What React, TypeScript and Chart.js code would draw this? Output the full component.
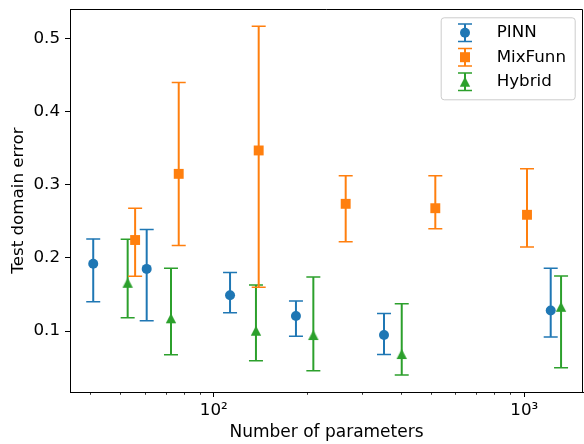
import React, { useEffect, useRef } from "react";
import { Chart, registerables } from "chart.js";

Chart.register(...registerables);

// ---- data ----
const seriesLabels = ["PINN", "MixFunn", "Hybrid"];
const seriesColors = ["#1f77b4", "#ff7f0e", "#2ca02c"];

const pinnX = [40.9, 60.8, 112.8, 183.9, 353.3, 1216];
const pinnY = [0.192, 0.185, 0.149, 0.1205, 0.0945, 0.128];
const pinnLo = [0.140, 0.114, 0.125, 0.093, 0.068, 0.092];
const pinnHi = [0.226, 0.239, 0.180, 0.141, 0.124, 0.186];

const mixX = [55.8, 77.1, 139.5, 265.9, 516.8, 1020];
const mixY = [0.2245, 0.315, 0.347, 0.274, 0.268, 0.259];
const mixLo = [0.175, 0.217, 0.160, 0.222, 0.240, 0.215];
const mixHi = [0.268, 0.440, 0.517, 0.3125, 0.3125, 0.322];

const hybX = [52.8, 72.8, 136.7, 209.2, 402.9, 1313];
const hybY = [0.166, 0.1174, 0.1004, 0.0945, 0.0685, 0.1332];
const hybLo = [0.118, 0.0676, 0.0594, 0.0457, 0.0398, 0.0498];
const hybHi = [0.2254, 0.1858, 0.163, 0.1739, 0.1373, 0.1752];

const xMajorTicks = [100, 1000];
const xMajorLabels = ["10²", "10³"];
const xMinorTicks = [40, 50, 60, 70, 80, 90, 200, 300, 400, 500, 600, 700, 800, 900];
const yTicks = [0.1, 0.2, 0.3, 0.4, 0.5];

const xTitle = "Number of parameters";
const yTitle = "Test domain error";

const FONT = "'DejaVu Sans', sans-serif";
const FS = 16.7;

function makeTriangle(color: string) {
  const c = document.createElement("canvas");
  c.width = 12;
  c.height = 12;
  const g = c.getContext("2d")!;
  g.fillStyle = color;
  g.beginPath();
  g.moveTo(6, 1);
  g.lineTo(11.2, 11);
  g.lineTo(0.8, 11);
  g.closePath();
  g.fill();
  return c;
}

export default function App() {
  const ref = useRef<HTMLCanvasElement | null>(null);

  useEffect(() => {
    document.body.style.margin = "0";
    const canvas = ref.current!;
    const xs = [pinnX, mixX, hybX];
    const ys = [pinnY, mixY, hybY];
    const los = [pinnLo, mixLo, hybLo];
    const his = [pinnHi, mixHi, hybHi];
    const tri = makeTriangle(seriesColors[2]);
    const styles: any[] = ["circle", "rect", tri];
    const radii = [5, 7, 6];

    const errorBars = {
      id: "errorBars",
      beforeDatasetDraw(chart: any, args: any) {
        const i = args.index;
        const ctx = chart.ctx;
        const xs_ = chart.scales.x;
        const ys_ = chart.scales.y;
        ctx.save();
        ctx.strokeStyle = seriesColors[i];
        for (let j = 0; j < xs[i].length; j++) {
          const px = xs_.getPixelForValue(xs[i][j]);
          const pt = ys_.getPixelForValue(his[i][j]);
          const pb = ys_.getPixelForValue(los[i][j]);
          ctx.lineWidth = 2;
          ctx.beginPath();
          ctx.moveTo(px, pt);
          ctx.lineTo(px, pb);
          ctx.stroke();
          ctx.lineWidth = 1.5;
          ctx.beginPath();
          ctx.moveTo(px - 7, pt);
          ctx.lineTo(px + 7, pt);
          ctx.moveTo(px - 7, pb);
          ctx.lineTo(px + 7, pb);
          ctx.stroke();
        }
        ctx.restore();
      },
    };

    const frame = {
      id: "frame",
      afterDraw(chart: any) {
        const ctx = chart.ctx;
        const a = chart.chartArea;
        const xsc = chart.scales.x;
        ctx.save();
        // minor ticks
        ctx.strokeStyle = "#000";
        ctx.lineWidth = 0.8;
        ctx.beginPath();
        for (const v of xMinorTicks) {
          const px = Math.round(xsc.getPixelForValue(v)) + 0.5;
          ctx.moveTo(px, a.bottom);
          ctx.lineTo(px, a.bottom + 2.8);
        }
        ctx.stroke();
        // top/right spines
        ctx.lineWidth = 1;
        ctx.beginPath();
        const t = Math.round(a.top) + 0.5;
        const r = Math.round(a.right) - 0.5;
        ctx.moveTo(a.left, t);
        ctx.lineTo(r, t);
        ctx.lineTo(r, a.bottom);
        ctx.stroke();

        // legend
        const bw = 134, bh = 82;
        const bl = a.right - 8.3 - bw;
        const bt = a.top + 8.3;
        ctx.beginPath();
        (ctx as any).roundRect(bl + 0.5, bt + 0.5, bw, bh, 3);
        ctx.fillStyle = "rgba(255,255,255,0.8)";
        ctx.fill();
        ctx.strokeStyle = "#cccccc";
        ctx.lineWidth = 1;
        ctx.stroke();
        for (let k = 0; k < seriesLabels.length; k++) {
          const yc = bt + 15.4 + k * 24.5;
          const xc = bl + 24.3;
          const col = seriesColors[k];
          ctx.strokeStyle = col;
          ctx.lineWidth = 2;
          ctx.beginPath();
          ctx.moveTo(xc, yc - 8.8);
          ctx.lineTo(xc, yc + 8.8);
          ctx.stroke();
          ctx.lineWidth = 1.5;
          ctx.beginPath();
          ctx.moveTo(xc - 7, yc - 8.8);
          ctx.lineTo(xc + 7, yc - 8.8);
          ctx.moveTo(xc - 7, yc + 8.8);
          ctx.lineTo(xc + 7, yc + 8.8);
          ctx.stroke();
          ctx.fillStyle = col;
          if (k === 0) {
            ctx.beginPath();
            ctx.arc(xc, yc, 5, 0, Math.PI * 2);
            ctx.fill();
          } else if (k === 1) {
            ctx.fillRect(xc - 5, yc - 5, 10, 10);
          } else {
            ctx.drawImage(tri, xc - 6, yc - 6);
          }
          ctx.fillStyle = "#000";
          ctx.font = `${FS}px ${FONT}`;
          ctx.textBaseline = "middle";
          ctx.textAlign = "left";
          ctx.fillText(seriesLabels[k], bl + 56, yc);
        }
        ctx.restore();
      },
    };

    const chart = new Chart(canvas, {
      type: "scatter",
      data: {
        datasets: seriesLabels.map((label, i) => ({
          label,
          data: xs[i].map((x, j) => ({ x, y: ys[i][j] })),
          backgroundColor: seriesColors[i],
          borderColor: seriesColors[i],
          borderWidth: 0,
          pointStyle: styles[i],
          pointRadius: radii[i],
          pointHoverRadius: radii[i],
          showLine: false,
        })),
      },
      options: {
        animation: false,
        responsive: false,
        events: [],
        layout: { autoPadding: false, padding: { top: 9, right: 1, left: 0, bottom: 0 } },
        plugins: {
          legend: { display: false },
          tooltip: { enabled: false },
        },
        scales: {
          x: {
            type: "logarithmic",
            min: 34.43,
            max: 1545,
            bounds: "data",
            afterBuildTicks: (s: any) => {
              s.ticks = [...xMinorTicks, ...xMajorTicks]
                .sort((a, b) => a - b)
                .map((v) => ({ value: v }));
            },
            afterFit: (s: any) => {
              s.height = 52;
              s.paddingLeft = 0;
              s.paddingRight = 0;
            },
            ticks: {
              autoSkip: false,
              maxRotation: 0,
              minRotation: 0,
              padding: 4,
              color: "#000",
              font: { family: FONT, size: FS },
              callback: (v: any) => {
                const idx = xMajorTicks.indexOf(Number(v));
                return idx >= 0 ? xMajorLabels[idx] : "";
              },
            },
            grid: {
              drawOnChartArea: false,
              drawTicks: true,
              tickLength: 5,
              tickWidth: 1,
              tickColor: (c: any) =>
                c.tick && xMajorTicks.includes(c.tick.value) ? "#000" : "rgba(0,0,0,0)",
            },
            border: { display: true, color: "#000", width: 1 },
            title: {
              display: true,
              text: xTitle,
              color: "#000",
              font: { family: FONT, size: 17 },
              padding: { top: 0, bottom: 1.5 },
            },
          },
          y: {
            type: "linear",
            min: 0.0166,
            max: 0.5405,
            bounds: "data",
            afterBuildTicks: (s: any) => {
              s.ticks = yTicks.map((v) => ({ value: v }));
            },
            afterFit: (s: any) => {
              s.width = 70;
              s.paddingTop = 0;
              s.paddingBottom = 0;
            },
            ticks: {
              padding: 5,
              color: "#000",
              font: { family: FONT, size: FS },
              callback: (v: any) => Number(v).toFixed(1),
            },
            grid: {
              drawOnChartArea: false,
              drawTicks: true,
              tickLength: 5,
              tickWidth: 1,
              tickColor: "#000",
            },
            border: { display: true, color: "#000", width: 1 },
            title: {
              display: true,
              text: yTitle,
              color: "#000",
              font: { family: FONT, size: FS },
              padding: { top: 8.2, bottom: 0 },
            },
          },
        },
      },
      plugins: [errorBars, frame],
    } as any);

    return () => chart.destroy();
  }, []);

  return <canvas ref={ref} width={584} height={444} style={{ display: "block" }} />;
}
